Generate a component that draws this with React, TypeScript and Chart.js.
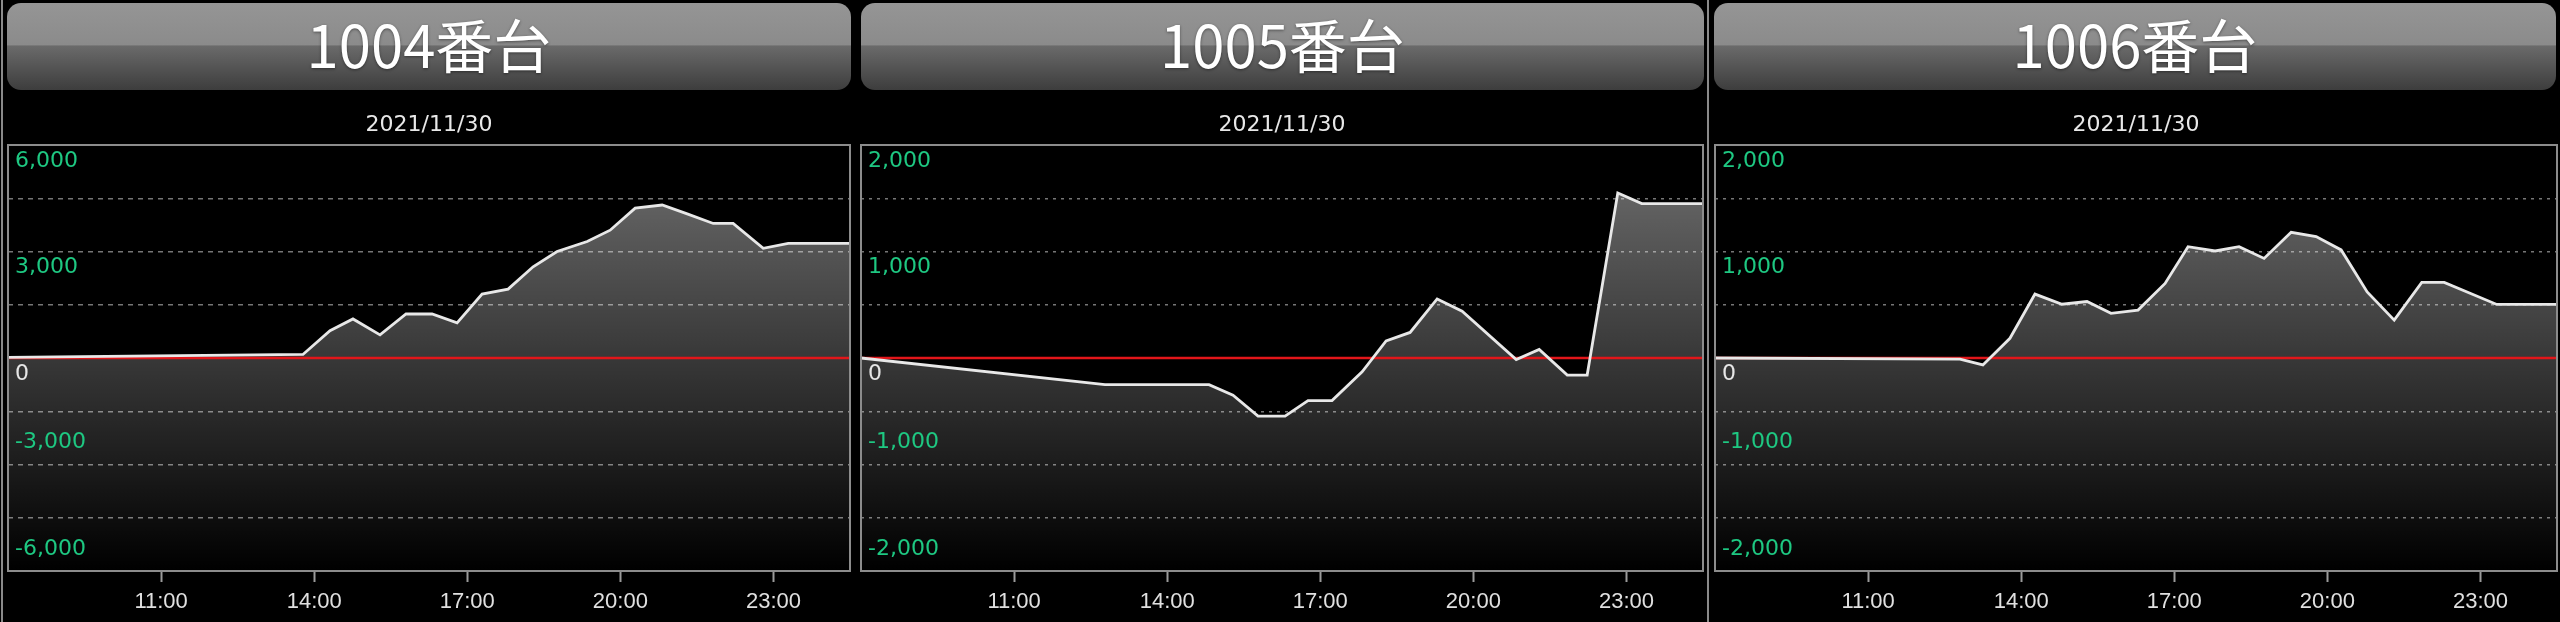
import React, { useEffect, useRef } from "react";
import { Chart, registerables } from "chart.js";

Chart.register(...registerables);

// ---------- data ----------
const dateLabel = "2021/11/30";
const xMinHour = 8;
const xMaxHour = 24.5;
const xTickHours = [11, 14, 17, 20, 23];
const xTickLabels = ["11:00", "14:00", "17:00", "20:00", "23:00"];

const title1004 = "1004番台";
const hours1004 = [8.0, 13.78, 14.31, 14.76, 15.29, 15.8, 16.31, 16.8, 17.29, 17.8, 18.29, 18.76, 19.35, 19.8, 20.29, 20.82, 21.31, 21.82, 22.21, 22.8, 23.29, 24.5];
const values1004 = [20, 100, 770, 1100, 650, 1240, 1240, 990, 1800, 1940, 2570, 3000, 3280, 3600, 4220, 4310, 4060, 3790, 3790, 3090, 3230, 3230];
const yLabelValues1004 = [6000, 3000, 0, -3000, -6000];

const title1005 = "1005番台";
const hours1005 = [8.0, 12.78, 14.82, 15.29, 15.78, 16.31, 16.76, 17.23, 17.82, 18.29, 18.76, 19.29, 19.78, 20.84, 21.29, 21.84, 22.23, 22.83, 23.3, 24.5];
const values1005 = [0, -250, -250, -350, -545, -545, -400, -400, -130, 160, 240, 555, 440, -15, 80, -160, -160, 1550, 1450, 1450];
const yLabelValues1005 = [2000, 1000, 0, -1000, -2000];

const title1006 = "1006番台";
const hours1006 = [8.0, 12.8, 13.25, 13.78, 14.27, 14.8, 15.29, 15.76, 16.29, 16.82, 17.27, 17.8, 18.27, 18.76, 19.29, 19.78, 20.27, 20.78, 21.31, 21.85, 22.29, 23.32, 24.5];
const values1006 = [0, -10, -65, 185, 600, 505, 530, 420, 450, 700, 1045, 1005, 1045, 935, 1180, 1140, 1015, 620, 355, 710, 710, 503, 503];
const yLabelValues1006 = [2000, 1000, 0, -1000, -2000];

// ---------- panel layout ----------
const PLOT_BOTTOM = 571;
const CANVAS_TOP = 95;
const CANVAS_H = 622 - CANVAS_TOP;

type PanelDef = {
  title: string;
  hours: number[];
  values: number[];
  yLabels: number[];
  yMax: number;
  yStep: number;
  plotLeft: number;
  plotRight: number;
  headLeft: number;
  headRight: number;
  dash: number[];
};

const panels: PanelDef[] = [
  { title: title1004, hours: hours1004, values: values1004, yLabels: yLabelValues1004, yMax: 6000, yStep: 1500, plotLeft: 8, plotRight: 850, headLeft: 7, headRight: 851, dash: [5, 5] },
  { title: title1005, hours: hours1005, values: values1005, yLabels: yLabelValues1005, yMax: 2000, yStep: 500, plotLeft: 861, plotRight: 1703, headLeft: 861, headRight: 1704, dash: [3, 5] },
  { title: title1006, hours: hours1006, values: values1006, yLabels: yLabelValues1006, yMax: 2000, yStep: 500, plotLeft: 1715, plotRight: 2557, headLeft: 1714, headRight: 2556, dash: [3, 5] },
];

const decoPlugin = {
  id: "panelDeco",
  beforeDatasetsDraw(chart: any) {
    const { ctx, chartArea: a, scales } = chart;
    const y0 = scales.y.getPixelForValue(0);
    ctx.save();
    ctx.strokeStyle = "#e2161a";
    ctx.lineWidth = 2.5;
    ctx.beginPath();
    ctx.moveTo(a.left, y0);
    ctx.lineTo(a.right, y0);
    ctx.stroke();
    ctx.restore();
  },
  afterDatasetsDraw(chart: any, _args: any, opts: any) {
    const { ctx, chartArea: a, scales } = chart;
    ctx.save();
    ctx.strokeStyle = "#8c8c8c";
    ctx.lineWidth = 2;
    ctx.strokeRect(a.left, a.top, a.right - a.left, a.bottom - a.top);
    ctx.font = '22px "DejaVu Sans"';
    ctx.textAlign = "left";
    ctx.textBaseline = "middle";
    const labels: number[] = opts.labels || [];
    labels.forEach((v) => {
      const py = scales.y.getPixelForValue(v);
      const ty = v >= 0 ? py + 16 : py - 22;
      ctx.fillStyle = v === 0 ? "#e6e6e6" : "#1ec882";
      ctx.fillText(v.toLocaleString("en-US"), a.left + 7, ty);
    });
    ctx.restore();
  },
};

function Panel({ p }: { p: PanelDef }) {
  const ref = useRef<HTMLCanvasElement | null>(null);
  useEffect(() => {
    if (!ref.current) return;
    const data = p.hours.map((h, i) => ({ x: h, y: p.values[i] }));
    const chart = new Chart(ref.current, {
      type: "line",
      data: {
        datasets: [
          {
            data,
            borderColor: "#e8e8e8",
            borderWidth: 2.8,
            pointRadius: 0,
            tension: 0,
            fill: "start",
            backgroundColor: (c: any) => {
              const { chart: ch } = c;
              const area = ch.chartArea;
              if (!area) return "rgba(255,255,255,0.2)";
              const g = ch.ctx.createLinearGradient(0, area.top, 0, area.bottom);
              g.addColorStop(0, "rgba(255,255,255,0.44)");
              g.addColorStop(1, "rgba(255,255,255,0)");
              return g;
            },
          },
        ],
      },
      options: {
        animation: false,
        responsive: false,
        devicePixelRatio: 1,
        layout: { padding: { left: 1, right: 1, top: 0, bottom: 0 } },
        plugins: {
          legend: { display: false },
          tooltip: { enabled: false },
          filler: { drawTime: "beforeDatasetsDraw" },
          title: {
            display: true,
            text: dateLabel,
            color: "#e8e8e8",
            font: { family: '"DejaVu Sans"', size: 22, weight: "normal", lineHeight: 1.2 },
            padding: { top: 17, bottom: 6.6 },
          },
          panelDeco: { labels: p.yLabels },
        } as any,
        scales: {
          x: {
            type: "linear",
            min: xMinHour,
            max: xMaxHour,
            afterBuildTicks: (scale: any) => {
              scale.ticks = xTickHours.map((v) => ({ value: v }));
            },
            afterFit: (scale: any) => {
              scale.height = 622 - PLOT_BOTTOM;
            },
            ticks: {
              color: "#e0e0e0",
              font: { family: '"Liberation Sans"', size: 22 },
              padding: 7,
              maxRotation: 0,
              autoSkip: false,
              callback: (_v: any, i: number) => xTickLabels[i],
            },
            grid: {
              display: true,
              drawOnChartArea: false,
              drawTicks: true,
              tickLength: 11,
              tickColor: "#9a9a9a",
              tickWidth: 2,
            },
            border: { display: false },
          },
          y: {
            type: "linear",
            min: -p.yMax,
            max: p.yMax,
            afterFit: (scale: any) => {
              scale.width = 0;
            },
            ticks: { display: false, stepSize: p.yStep },
            grid: {
              drawTicks: false,
              lineWidth: 1.5,
              color: (c: any) => {
                const v = c.tick ? c.tick.value : null;
                if (v === 0 || v === p.yMax || v === -p.yMax) return "rgba(0,0,0,0)";
                return "#767676";
              },
            },
            border: { display: false, dash: p.dash },
          },
        },
      } as any,
      plugins: [decoPlugin as any],
    });
    return () => chart.destroy();
  }, [p]);

  const headStyle: React.CSSProperties = {
    position: "absolute",
    left: p.headLeft,
    top: 3,
    width: p.headRight - p.headLeft,
    height: 87,
    borderRadius: 14,
    background: "linear-gradient(to bottom, #959595 0%, #8b8b8b 48%, #6a6a6a 49.5%, #3d3d3d 100%)",
    color: "#ffffff",
    fontFamily: '"Noto Sans CJK JP", "Noto Sans", sans-serif',
    fontSize: 58,
    lineHeight: "81px",
    textAlign: "center",
    textShadow: "0 1px 3px rgba(0,0,0,0.45)",
    boxSizing: "border-box",
  };

  return (
    <>
      <div style={headStyle}>{p.title}</div>
      <canvas
        ref={ref}
        width={p.plotRight - p.plotLeft + 2}
        height={CANVAS_H}
        style={{
          position: "absolute",
          left: p.plotLeft - 1,
          top: CANVAS_TOP,
          width: p.plotRight - p.plotLeft + 2,
          height: CANVAS_H,
        }}
      />
    </>
  );
}

export default function App() {
  return (
    <div
      style={{
        position: "fixed",
        left: 0,
        top: 0,
        width: 2560,
        height: 622,
        background: "#000",
        overflow: "hidden",
      }}
    >
      <div style={{ position: "absolute", left: 1, top: 0, width: 2, height: 622, background: "#8a8a8a" }} />
      <div style={{ position: "absolute", left: 1707, top: 0, width: 2, height: 622, background: "#8a8a8a" }} />
      {panels.map((p) => (
        <Panel key={p.title} p={p} />
      ))}
    </div>
  );
}
